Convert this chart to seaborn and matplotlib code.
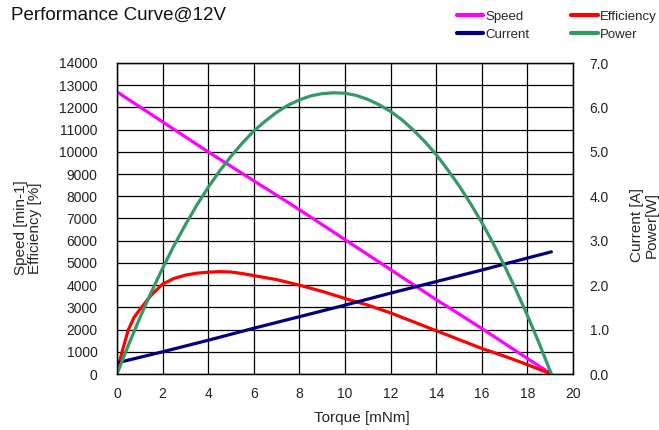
import matplotlib
matplotlib.use("Agg")
import matplotlib.pyplot as plt
import seaborn as sns
from matplotlib.lines import Line2D

# ---- data ----
speed_torque = [0, 2, 4, 6, 8, 10, 12, 14, 16, 18, 19.05]
speed = [12700, 11350, 10000, 8700, 7400, 6050, 4700, 3350, 2050, 700, 0]

eff_torque = [0, 0.05, 0.1, 0.25, 0.5, 0.75, 1, 1.5, 2, 2.5, 3, 3.5, 4, 4.5, 5, 5.5, 6,
              7, 8, 9, 10, 11, 12, 13, 14, 15, 16, 17, 18, 19.05]
efficiency = [0, 250, 500, 1100, 2000, 2550, 2900, 3550, 4050, 4300, 4450, 4540, 4580,
              4610, 4590, 4520, 4430, 4250, 4000, 3720, 3400, 3100, 2750, 2350,
              1950, 1550, 1150, 800, 420, 0]

current_torque = [0, 2, 4, 6, 8, 10, 12, 14, 16, 18, 19.05]
current = [0.25, 0.50, 0.76, 1.03, 1.29, 1.55, 1.82, 2.08, 2.34, 2.61, 2.75]

power_torque = [0, 0.5, 1, 1.5, 2, 2.5, 3, 3.5, 4, 4.5, 5, 5.5, 6, 6.5, 7, 7.5, 8,
                8.5, 9, 9.5, 10, 10.5, 11, 11.5, 12, 12.5, 13, 13.5, 14, 14.5, 15,
                15.5, 16, 16.5, 17, 17.5, 18, 18.5, 19.05]
power = [0, 0.65, 1.26, 1.84, 2.38, 2.89, 3.36, 3.80, 4.20, 4.57, 4.90, 5.20, 5.47,
         5.69, 5.89, 6.05, 6.17, 6.26, 6.31, 6.33, 6.32, 6.27, 6.18, 6.06, 5.91,
         5.72, 5.49, 5.23, 4.94, 4.60, 4.24, 3.84, 3.41, 2.94, 2.43, 1.89, 1.32,
         0.71, 0]

x_ticks = list(range(0, 21, 2))
left_ticks = list(range(0, 14001, 1000))
right_ticks = [0, 1, 2, 3, 4, 5, 6, 7]

title = "Performance Curve@12V"
colors = {"Speed": "#FF00FF", "Efficiency": "#FF0000",
          "Current": "#000080", "Power": "#339966"}

# ---- style ----
sns.set_theme(style="white")
plt.rcParams["font.family"] = ["Liberation Sans", "DejaVu Sans"]

fig = plt.figure(figsize=(6.59, 4.30), dpi=100)
ax = fig.add_axes([117 / 659, 1 - 374 / 430, (573 - 117) / 659, (374 - 63) / 430])
ax2 = ax.twinx()

lw = 2.3
sns.lineplot(x=speed_torque, y=speed, ax=ax, color=colors["Speed"], lw=lw, sort=False)
sns.lineplot(x=eff_torque, y=efficiency, ax=ax, color=colors["Efficiency"], lw=lw, sort=False)
sns.lineplot(x=current_torque, y=current, ax=ax2, color=colors["Current"], lw=lw, sort=False)
sns.lineplot(x=power_torque, y=power, ax=ax2, color=colors["Power"], lw=lw, sort=False)

ax.set_xlim(0, 20)
ax.set_ylim(0, 14000)
ax2.set_ylim(0, 7)
ax.set_xticks(x_ticks)
ax.set_yticks(left_ticks)
ax2.set_yticks(right_ticks)
ax2.set_yticklabels([f"{v:.1f}" for v in right_ticks])

ax.grid(True, color="black", lw=0.9)
ax2.grid(False)
for a in (ax, ax2):
    for s in a.spines.values():
        s.set_color("black")
        s.set_linewidth(0.9)
    a.tick_params(length=0, labelsize=10, colors="#222222")
ax.tick_params(axis="y", pad=14)
ax.tick_params(axis="x", pad=9)
ax2.tick_params(axis="y", pad=12)

ax.set_xlabel("")
ax.set_ylabel("")
ax2.set_ylabel("")

fig.text(11 / 659, 1 - 15 / 430, title, fontsize=13.5, ha="left", va="center", color="#111111")
fig.text(362 / 659, 1 - 418 / 430, "Torque [mNm]", fontsize=11, ha="center", va="center")
fig.text(28 / 659, 1 - 228 / 430, "Speed [min-1]\nEfficiency [%]", fontsize=11,
         rotation=90, ha="center", va="center", linespacing=1.05)
fig.text(644 / 659, 1 - 225 / 430, "Current [A]\nPower[W]", fontsize=11, rotation=90,
         ha="center", va="center", linespacing=1.05)

handles = [Line2D([], [], color=colors[n], lw=3) for n in ["Speed", "Current", "Efficiency", "Power"]]
labels = ["Speed", "Current", "Efficiency", "Power"]
fig.legend(handles, labels, loc="upper left", bbox_to_anchor=(450 / 659, 1 - 4 / 430),
           ncol=2, frameon=False, fontsize=9.5, handlelength=2.0, handletextpad=0.15,
           columnspacing=3.2, borderpad=0, labelspacing=0.45)

fig.savefig("out.png", dpi=100)
